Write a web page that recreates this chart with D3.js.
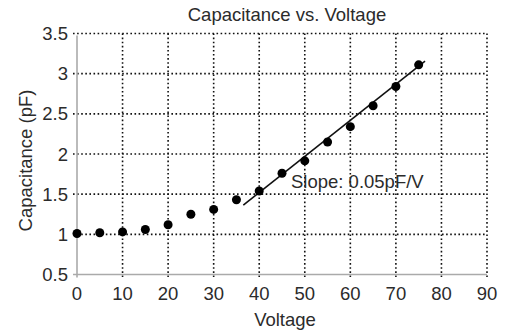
<!DOCTYPE html>
<html><head><meta charset="utf-8">
<script src="https://cdn.jsdelivr.net/npm/d3@7"></script>
<style>body{margin:0;background:#fff}svg{display:block}text{font-family:"Liberation Sans",Arial,sans-serif;fill:#2b2b2b}</style>
</head><body><svg id="c" width="509" height="330"></svg>
<script>
const voltage = [0,5,10,15,20,25,30,35,40,45,50,55,60,65,70,75];
const capacitance = [1.01,1.02,1.03,1.06,1.12,1.25,1.31,1.43,1.54,1.76,1.915,2.15,2.34,2.60,2.84,3.11];
const fitX = [36.5,76.4];
const fitY = [1.365,3.156];
const xTicks = [0,10,20,30,40,50,60,70,80,90];
const yTicks = [0.5,1,1.5,2,2.5,3,3.5];
const title = "Capacitance vs. Voltage";
const xLabel = "Voltage";
const yLabel = "Capacitance (pF)";
const annotation = "Slope: 0.05pF/V";

const svg = d3.select("#c");
const L=77,R=487,T=33.5,B=274.5;
const x = d3.scaleLinear().domain([0,90]).range([L,R]);
const y = d3.scaleLinear().domain([0.5,3.5]).range([B,T]);

// grid
const g = svg.append("g");
g.selectAll(".vg").data(xTicks.slice(1)).enter().append("line")
 .attr("x1",d=>x(d)).attr("x2",d=>x(d)).attr("y1",T).attr("y2",B+3)
 .attr("stroke","#111").attr("stroke-width",1.6).attr("stroke-dasharray","1.6,2.5");
g.selectAll(".hg").data(yTicks.slice(1)).enter().append("line")
 .attr("y1",d=>y(d)).attr("y2",d=>y(d)).attr("x1",L-4).attr("x2",R)
 .attr("stroke","#111").attr("stroke-width",1.6).attr("stroke-dasharray","1.6,2.5");

// axes lines
svg.append("line").attr("x1",L).attr("x2",L).attr("y1",T+2).attr("y2",B).attr("stroke","#aaa").attr("stroke-width",1.6);
svg.append("line").attr("x1",L-4).attr("x2",R).attr("y1",B).attr("y2",B).attr("stroke","#aaa").attr("stroke-width",1.6);
svg.append("line").attr("x1",L).attr("x2",L).attr("y1",B).attr("y2",B+3).attr("stroke","#aaa").attr("stroke-width",1.6);

// tick labels
svg.selectAll(".xt").data(xTicks).enter().append("text")
 .attr("x",d=>x(d)).attr("y",300).attr("text-anchor","middle").attr("font-size",18.5).text(d=>d);
svg.selectAll(".yt").data(yTicks).enter().append("text")
 .attr("x",68).attr("y",d=>y(d)+6.5).attr("text-anchor","end").attr("font-size",18.5).text(d=>d);

// fit line
svg.append("line").attr("x1",x(fitX[0])).attr("y1",y(fitY[0])).attr("x2",x(fitX[1])).attr("y2",y(fitY[1]))
 .attr("stroke","#111").attr("stroke-width",1.6);

// points
svg.selectAll(".pt").data(voltage).enter().append("circle")
 .attr("cx",(d)=>x(d)).attr("cy",(d,i)=>y(capacitance[i])).attr("r",4.5).attr("fill","#000");

// texts
svg.append("text").attr("x",287).attr("y",21).attr("text-anchor","middle").attr("font-size",18.5).text(title);
svg.append("text").attr("x",285).attr("y",326).attr("text-anchor","middle").attr("font-size",18.5).text(xLabel);
svg.append("text").attr("transform","translate(32,160.5) rotate(-90)").attr("text-anchor","middle").attr("font-size",18.5).text(yLabel);
svg.append("text").attr("x",291).attr("y",188).attr("font-size",18.5).text(annotation);
</script></body></html>
